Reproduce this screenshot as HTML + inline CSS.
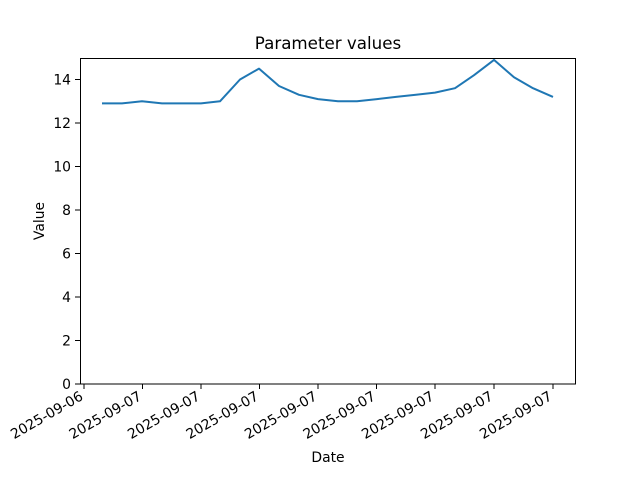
<!DOCTYPE html>
<html><head><meta charset="utf-8"><style>body{margin:0;background:#fff}svg{display:block}text{font-family:"DejaVu Sans","Liberation Sans",sans-serif;fill:#000}</style></head><body>
<svg width="640" height="480" viewBox="0 0 640 480" xmlns="http://www.w3.org/2000/svg">
<rect width="640" height="480" fill="#fff"/>
<text x="328" y="49" font-size="16.7" text-anchor="middle">Parameter values</text>
<g stroke="#000" stroke-width="1">
<line x1="80" y1="384" x2="75" y2="384"/><line x1="80" y1="340.5" x2="75" y2="340.5"/><line x1="80" y1="297" x2="75" y2="297"/><line x1="80" y1="253.5" x2="75" y2="253.5"/><line x1="80" y1="210" x2="75" y2="210"/><line x1="80" y1="166.5" x2="75" y2="166.5"/><line x1="80" y1="123" x2="75" y2="123"/><line x1="80" y1="79.5" x2="75" y2="79.5"/>
<line x1="84" y1="384" x2="84" y2="389"/><line x1="142.5" y1="384" x2="142.5" y2="389"/><line x1="201" y1="384" x2="201" y2="389"/><line x1="259.5" y1="384" x2="259.5" y2="389"/><line x1="318" y1="384" x2="318" y2="389"/><line x1="376.5" y1="384" x2="376.5" y2="389"/><line x1="435" y1="384" x2="435" y2="389"/><line x1="494" y1="384" x2="494" y2="389"/><line x1="553" y1="384" x2="553" y2="389"/>
</g>
<g font-size="13.9" text-anchor="end">
<text x="71" y="389">0</text><text x="71" y="345.5">2</text><text x="71" y="302">4</text><text x="71" y="258.5">6</text><text x="71" y="215">8</text><text x="71" y="171.5">10</text><text x="71" y="128">12</text><text x="71" y="84.5">14</text>
</g>
<g font-size="13.9" text-anchor="end">
<text transform="translate(84,399) rotate(-30)">2025-09-06</text>
<text transform="translate(142.5,399) rotate(-30)">2025-09-07</text>
<text transform="translate(201,399) rotate(-30)">2025-09-07</text>
<text transform="translate(259.5,399) rotate(-30)">2025-09-07</text>
<text transform="translate(318,399) rotate(-30)">2025-09-07</text>
<text transform="translate(376.5,399) rotate(-30)">2025-09-07</text>
<text transform="translate(435,399) rotate(-30)">2025-09-07</text>
<text transform="translate(494,399) rotate(-30)">2025-09-07</text>
<text transform="translate(553,399) rotate(-30)">2025-09-07</text>
</g>
<text x="328" y="462" font-size="13.9" text-anchor="middle">Date</text>
<text transform="translate(44,221) rotate(-90)" font-size="13.9" text-anchor="middle">Value</text>
<polyline fill="none" stroke="#1f77b4" stroke-width="2" stroke-linejoin="round" points="102,103.4 122,103.4 142,101.3 162,103.4 181,103.4 201,103.4 220,101.3 240,79.5 259,68.6 279,86.0 299,94.8 318,99.1 338,101.3 357,101.3 377,99.1 396,96.9 416,94.8 435,92.6 455,88.2 474,75.2 494,59.9 514,77.3 533,88.2 553,96.9"/>
<rect x="80.5" y="58.5" width="495" height="325.5" fill="none" stroke="#000" stroke-width="1"/>
</svg>
</body></html>
